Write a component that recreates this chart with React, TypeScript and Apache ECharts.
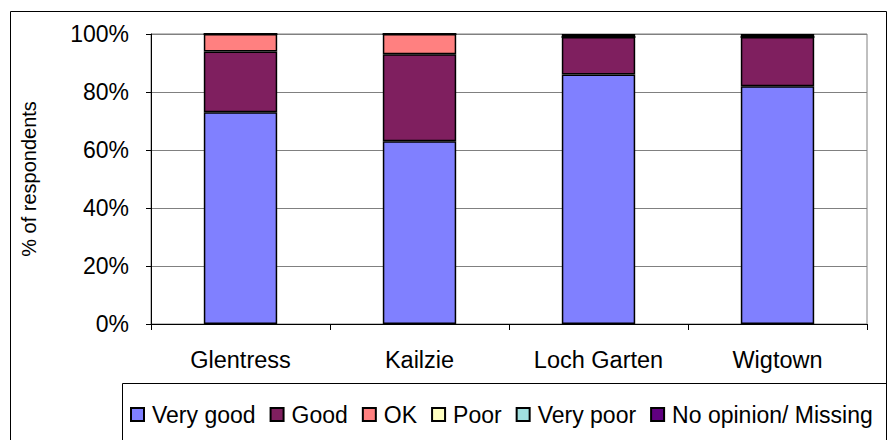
import React, { useEffect, useRef } from "react";
import * as echarts from "echarts";

const categories = ["Glentress", "Kailzie", "Loch Garten", "Wigtown"];
const seriesNames = ["Very good", "Good", "OK", "Poor", "Very poor", "No opinion/ Missing"];
const veryGood = [73, 63, 86, 82];
const good = [21, 30, 13, 17];
const ok = [6, 7, 0, 0];
const poor = [0, 0, 0, 0];
const veryPoor = [0, 0, 0, 0];
const noOpinion = [0, 0, 1, 1];
const yTicks = [0, 20, 40, 60, 80, 100];

const colors = ["#8080FF", "#7F1F5F", "#FF8080", "#FFFFC0", "#A0E0E0", "#600080"];
const FONT = "'Liberation Sans', Arial, sans-serif";

export default function App() {
  const ref = useRef<HTMLDivElement>(null);
  useEffect(() => {
    if (!ref.current) return;
    const chart = echarts.init(ref.current, null, { renderer: "svg" });
    const values = [veryGood, good, ok, poor, veryPoor, noOpinion];
    chart.setOption({
      animation: false,
      textStyle: { fontFamily: FONT, color: "#000" },
      graphic: [
        {
          type: "rect",
          shape: { x: 10.5, y: 11.5, width: 876, height: 460 },
          style: { fill: "none", stroke: "#000", lineWidth: 1 },
          silent: true,
        },
        {
          type: "rect",
          shape: { x: 122.5, y: 383.5, width: 764, height: 80 },
          style: { fill: "none", stroke: "#000", lineWidth: 1 },
          silent: true,
        },
      ],
      grid: {
        left: 151,
        top: 34,
        right: 21,
        bottom: 116,
        show: true,
        borderColor: "#808080",
        borderWidth: 1,
      },
      legend: {
        left: 130,
        top: 403,
        width: 756,
        padding: 0,
        itemWidth: 13,
        itemHeight: 13,
        itemGap: 14,
        icon: "rect",
        textStyle: { fontSize: 23, fontFamily: FONT, color: "#000", padding: [0, 0, 0, 3] },
        data: seriesNames,
      },
      xAxis: {
        type: "category",
        data: categories,
        axisLine: { lineStyle: { color: "#000", width: 1 } },
        axisTick: { show: true, length: 6, lineStyle: { color: "#000" } },
        axisLabel: { fontSize: 23.5, color: "#000", margin: 24, fontFamily: FONT },
      },
      yAxis: {
        type: "value",
        min: 0,
        max: 100,
        interval: 20,
        name: "% of respondents",
        nameLocation: "middle",
        nameGap: 112,
        nameTextStyle: { fontSize: 20, color: "#000", fontFamily: FONT },
        axisLine: { show: true, lineStyle: { color: "#000", width: 1 } },
        axisTick: { show: true, length: 5, lineStyle: { color: "#000" } },
        axisLabel: {
          fontSize: 23,
          color: "#000",
          margin: 22,
          fontFamily: FONT,
          formatter: (v: number) => (yTicks.includes(v) ? v + "%" : ""),
        },
        splitLine: { show: true, lineStyle: { color: "#808080", width: 1 } },
      },
      series: seriesNames.map((name, i) => ({
        name,
        type: "bar",
        stack: "total",
        barWidth: "41%",
        data: values[i],
        itemStyle: { color: colors[i], borderColor: "#000", borderWidth: 1.5 },
      })),
    });
    return () => chart.dispose();
  }, []);
  return (
    <div
      ref={ref}
      style={{ position: "fixed", left: 0, top: 0, width: 888, height: 440, background: "#fff" }}
    />
  );
}
